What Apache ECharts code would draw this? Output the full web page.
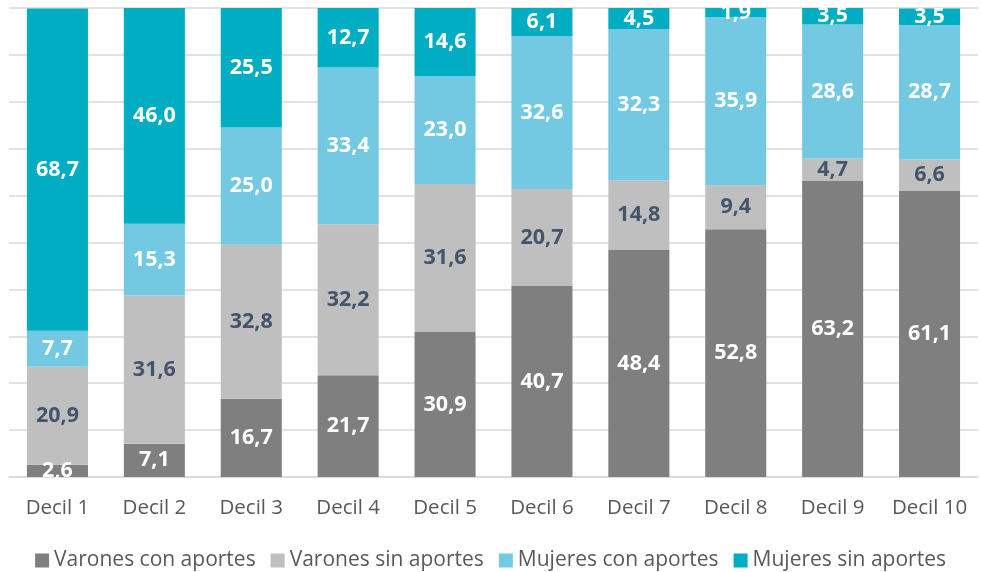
<!DOCTYPE html>
<html>
<head>
<meta charset="utf-8">
<script src="https://cdn.jsdelivr.net/npm/echarts@6/dist/echarts.min.js"></script>
<style>
  html, body { margin: 0; padding: 0; background: #fff; }
  #chart { width: 981px; height: 572px; }
</style>
</head>
<body>
<div id="chart"></div>
<script>
  // datos por decil
  var categorias = ['Decil 1', 'Decil 2', 'Decil 3', 'Decil 4', 'Decil 5', 'Decil 6', 'Decil 7', 'Decil 8', 'Decil 9', 'Decil 10']
  var varonesCon = [2.6, 7.1, 16.7, 21.7, 30.9, 40.7, 48.4, 52.8, 63.2, 61.1]
  var varonesSin = [20.9, 31.6, 32.8, 32.2, 31.6, 20.7, 14.8, 9.4, 4.7, 6.6]
  var mujeresCon = [7.7, 15.3, 25.0, 33.4, 23.0, 32.6, 32.3, 35.9, 28.6, 28.7]
  var mujeresSin = [68.7, 46.0, 25.5, 12.7, 14.6, 6.1, 4.5, 1.9, 3.5, 3.5]

  var fuente = "'Open Sans', 'Noto Sans', sans-serif"

  function serie (nombre, datos, color, colorTexto) {
    return {
      name: nombre,
      type: 'bar',
      stack: 'total',
      barWidth: '63%',
      data: datos,
      itemStyle: { color: color },
      label: {
        show: true,
        position: 'inside',
        color: colorTexto,
        fontFamily: fuente,
        fontWeight: 'bold',
        fontSize: 21.5,
        formatter: function (p) {
          return p.value.toFixed(1).replace('.', ',')
        }
      }
    }
  }

  var chart = echarts.init(document.getElementById('chart'))
  chart.setOption({
    animation: false,
    grid: { left: 9, right: 3, top: 8, bottom: 95 },
    legend: {
      top: 545,
      left: 'center',
      icon: 'rect',
      itemWidth: 14,
      itemHeight: 14,
      itemGap: 15,
      textStyle: { color: '#595959', fontFamily: fuente, fontSize: 21 }
    },
    xAxis: {
      type: 'category',
      data: categorias,
      axisTick: { show: false },
      axisLine: { lineStyle: { color: '#d9d9d9', width: 1.5 } },
      axisLabel: { interval: 0, color: '#595959', fontFamily: fuente, fontSize: 20.5, margin: 21 }
    },
    yAxis: {
      type: 'value',
      min: 0,
      max: 100,
      interval: 10,
      axisLabel: { show: false },
      axisLine: { show: false },
      axisTick: { show: false },
      splitLine: { lineStyle: { color: '#d9d9d9', width: 1.5 } }
    },
    series: [
      serie('Varones con aportes', varonesCon, '#7f7f7f', '#ffffff'),
      serie('Varones sin aportes', varonesSin, '#bfbfbf', '#44546a'),
      serie('Mujeres con aportes', mujeresCon, '#74c9e2', '#ffffff'),
      serie('Mujeres sin aportes', mujeresSin, '#00adc2', '#ffffff')
    ]
  })
</script>
</body>
</html>
